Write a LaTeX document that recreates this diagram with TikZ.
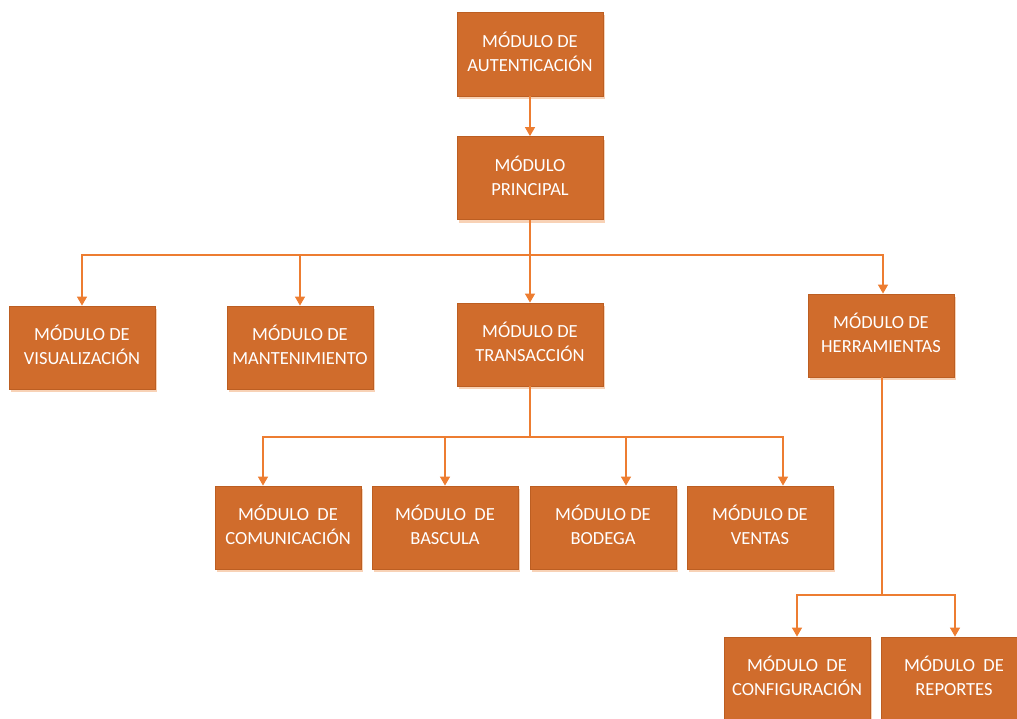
\documentclass[tikz,border=0pt]{standalone}
\usepackage{fontspec}
\setmainfont{Carlito}
\usetikzlibrary{arrows.meta,shadows,calc}

\definecolor{boxfill}{RGB}{208,108,44}
\definecolor{boxedge}{RGB}{188,94,34}
\definecolor{linkcol}{RGB}{237,125,49}
\definecolor{shadecol}{RGB}{248,210,182}

\tikzset{
  modbox/.style={rectangle, fill=boxfill, draw=boxedge, line width=0.8pt,
    minimum width=146pt, minimum height=83pt, inner sep=0pt,
    text=white, align=center, text depth=4.5pt,
    font=\fontsize{18.5pt}{24pt}\selectfont,
    drop shadow={shadow xshift=1.5pt, shadow yshift=-3pt, fill=shadecol, opacity=1}},
  link/.style={draw=linkcol, line width=1.3pt},
  linkarrow/.style={link, -{Triangle[width=10pt,length=9pt]}}
}

\begin{document}
\begin{tikzpicture}[x=1pt,y=-1pt]
\useasboundingbox (0,0) rectangle (1017,718);

% top of the hierarchy
\node[modbox, minimum height=84pt] (auth)  at (530,54)    {MÓDULO DE\\AUTENTICACIÓN};
\node[modbox] (princ) at (530,178)   {MÓDULO\\PRINCIPAL};

% second level
\node[modbox] (visu)  at (82,347.5)  {MÓDULO DE\\VISUALIZACIÓN};
\node[modbox] (mant)  at (300,347.5) {MÓDULO DE\\MANTENIMIENTO};
\node[modbox] (trans) at (530,344.5) {MÓDULO DE\\TRANSACCIÓN};
\node[modbox] (herr)  at (881,335.5) {MÓDULO DE\\HERRAMIENTAS};

% transaction sub-modules
\node[modbox] (comu)  at (288,527.5) {MÓDULO\ \ DE\\COMUNICACIÓN};
\node[modbox] (basc)  at (445,527.5) {MÓDULO\ \ DE\\BASCULA};
\node[modbox] (bode)  at (603,527.5) {MÓDULO DE\\BODEGA};
\node[modbox] (vent)  at (760,527.5) {MÓDULO DE\\VENTAS};

% tool sub-modules
\node[modbox] (conf)  at (797,678.5) {MÓDULO\ \ DE\\CONFIGURACIÓN};
\node[modbox] (repo)  at (954,678.5) {MÓDULO\ \ DE\\REPORTES};

% bus junctions
\coordinate (bus1) at (530,255);
\coordinate (bus2) at (530,437);
\coordinate (bus3) at (882,595);

% connectors
\draw[linkarrow] (auth.south) -- (princ.north);

\draw[link] (princ.south) -- (bus1);
\draw[linkarrow] (bus1) -| (visu.north);
\draw[linkarrow] (bus1) -| (mant.north);
\draw[linkarrow] (bus1) -- (trans.north);
\draw[linkarrow] (bus1) -| ($(herr.north)+(2,0)$);

\draw[link] (trans.south) -- (bus2);
\draw[linkarrow] (bus2) -| ($(comu.north)+(-25,0)$);
\draw[linkarrow] (bus2) -| (basc.north);
\draw[linkarrow] (bus2) -| ($(bode.north)+(23,0)$);
\draw[linkarrow] (bus2) -| ($(vent.north)+(23,0)$);

\draw[link] ($(herr.south)+(1,0)$) -- (bus3);
\draw[linkarrow] (bus3) -| (conf.north);
\draw[linkarrow] (bus3) -| ($(repo.north)+(1,0)$);
\end{tikzpicture}
\end{document}
